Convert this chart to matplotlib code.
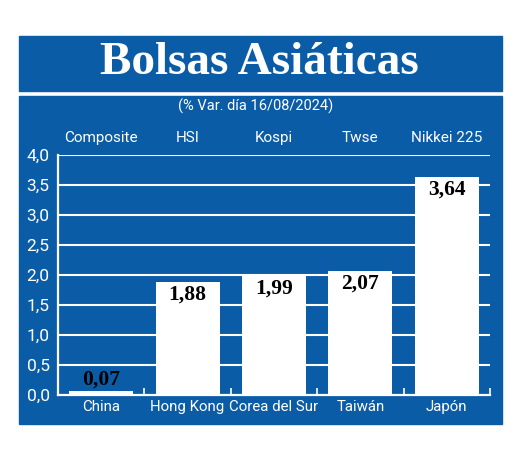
import numpy as np
import matplotlib
matplotlib.use('Agg')
import matplotlib.pyplot as plt
from matplotlib.patches import Rectangle

# Datos
paises = ['China', 'Hong Kong', 'Corea del Sur', 'Taiwán', 'Japón']
indices = ['Composite', 'HSI', 'Kospi', 'Twse', 'Nikkei 225']
variacion = [0.07, 1.88, 1.99, 2.07, 3.64]
etiquetas = ['0,07', '1,88', '1,99', '2,07', '3,64']
yticks = [0, 0.5, 1.0, 1.5, 2.0, 2.5, 3.0, 3.5, 4.0]

azul = '#0b5ca7'
sans = ['Liberation Sans Narrow', 'Roboto', 'DejaVu Sans']
serif = ['Liberation Serif', 'DejaVu Serif']

W, H = 520, 455
fig = plt.figure(figsize=(W / 100, H / 100), dpi=100, facecolor='white')

# recuadros azules (titulo y panel)
fig.patches.append(Rectangle((19 / W, (H - 91) / H), 483 / W, 55 / H,
                             transform=fig.transFigure, color=azul, zorder=-5))
fig.patches.append(Rectangle((19 / W, (H - 424) / H), 483 / W, 328 / H,
                             transform=fig.transFigure, color=azul, zorder=-5))

fig.text(259 / W, (H - 63) / H, 'Bolsas Asiáticas', color='white', fontsize=34,
         fontweight='bold', family=serif, ha='center', va='center')
fig.text(256 / W, (H - 106) / H, '(% Var. día 16/08/2024)', color='white',
         fontsize=10.5, family=sans, ha='center', va='center')

ax = fig.add_axes([58 / W, (H - 395) / H, 432 / W, 240 / H])
ax.set_facecolor('none')

x = np.arange(len(paises))
ax.bar(x, variacion, width=0.74, color='white', zorder=3)
for xi, v, t in zip(x, variacion, etiquetas):
    if v < 0.3:
        ax.annotate(t, (xi, v), xytext=(0, 1), textcoords='offset points',
                    ha='center', va='bottom', fontsize=15.5, fontweight='bold',
                    family=serif, color='black', zorder=4)
    else:
        ax.annotate(t, (xi, v), xytext=(0, -2), textcoords='offset points',
                    ha='center', va='top', fontsize=15.5, fontweight='bold',
                    family=serif, color='black', zorder=4)

ax.set_xlim(-0.5, len(paises) - 0.5)
ax.set_ylim(0, 4.0)
ax.set_yticks(yticks)
ax.set_yticklabels([f'{t:.1f}'.replace('.', ',') for t in yticks],
                   color='white', fontsize=12.5, family=sans)
ax.tick_params(axis='y', length=0, pad=6)
for t in yticks[1:]:
    ax.axhline(t, color='white', lw=1.5, zorder=1)

# ticks inferiores entre categorias
ax.set_xticks(np.arange(0.5, len(paises), 1.0))
ax.set_xticklabels([])
ax.tick_params(axis='x', direction='in', length=5, width=1.2, color='white')
for xi, p, ind in zip(x, paises, indices):
    ax.text(xi, -0.05, p, transform=ax.get_xaxis_transform(), ha='center',
            va='center', color='white', fontsize=10.8, family=sans)
    ax.text(xi, 1.07, ind, transform=ax.get_xaxis_transform(), ha='center',
            va='center', color='white', fontsize=11, family=sans)

for s in ['top', 'right']:
    ax.spines[s].set_visible(False)
for s in ['left', 'bottom']:
    ax.spines[s].set_color('white')
    ax.spines[s].set_linewidth(1.6)

fig.savefig('out.png', dpi=100, facecolor='white')
